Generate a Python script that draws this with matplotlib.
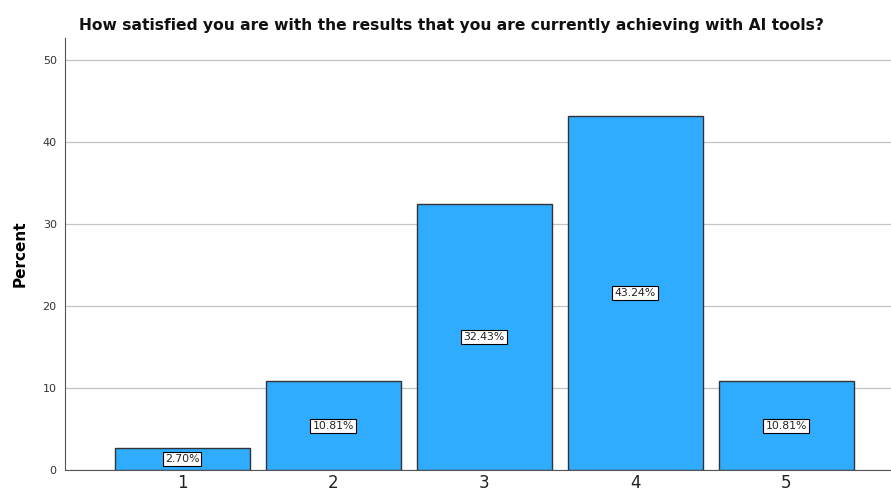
import matplotlib
matplotlib.use('Agg')
import matplotlib.pyplot as plt

# ===== 数据 =====
categories = ['1', '2', '3', '4', '5']
percents = [2.70, 10.81, 32.43, 43.24, 10.81]
y_ticks = [0, 10, 20, 30, 40, 50]

plt.rcParams['font.family'] = ['DejaVu Sans']

fig = plt.figure(figsize=(8.91, 4.93), dpi=100)
ax = fig.add_axes([0.073, 0.0467, 0.927, 0.876])

x = list(range(1, len(categories) + 1))
ax.bar(x, percents, width=0.894, color='#30acff', edgecolor='#333333',
       linewidth=1.0, zorder=3)

# 标签（白底黑框）
for xi, v in zip(x, percents):
    ax.text(xi, v / 2, f'{v:.2f}%', ha='center', va='center', fontsize=7.8,
            color='#222222', zorder=4,
            bbox=dict(boxstyle='square,pad=0.2', facecolor='white',
                      edgecolor='black', linewidth=0.8))

ax.set_xlim(0.225, 5.695)
ax.set_ylim(0, 52.7)
ax.set_xticks(x)
ax.set_xticklabels(categories, fontsize=12, color='#222222')
ax.set_yticks(y_ticks)
ax.set_yticklabels([str(t) for t in y_ticks], fontsize=8, color='#333333')
ax.tick_params(axis='both', length=0)
ax.tick_params(axis='y', pad=6)
ax.tick_params(axis='x', pad=3)

ax.grid(axis='y', color='#c4c4c4', linewidth=0.9, zorder=0)
ax.spines['top'].set_visible(False)
ax.spines['right'].set_visible(False)
ax.spines['left'].set_color('#555555')
ax.spines['bottom'].set_color('#555555')

ax.set_ylabel('Percent', fontsize=11, fontweight='bold', labelpad=11)
fig.text(0.507, 0.948, 'How satisfied you are with the results that you are currently achieving with AI tools?',
         ha='center', va='center', fontsize=11.2, fontweight='bold', color='#111111')

fig.savefig('out.png', dpi=100, facecolor='white')
